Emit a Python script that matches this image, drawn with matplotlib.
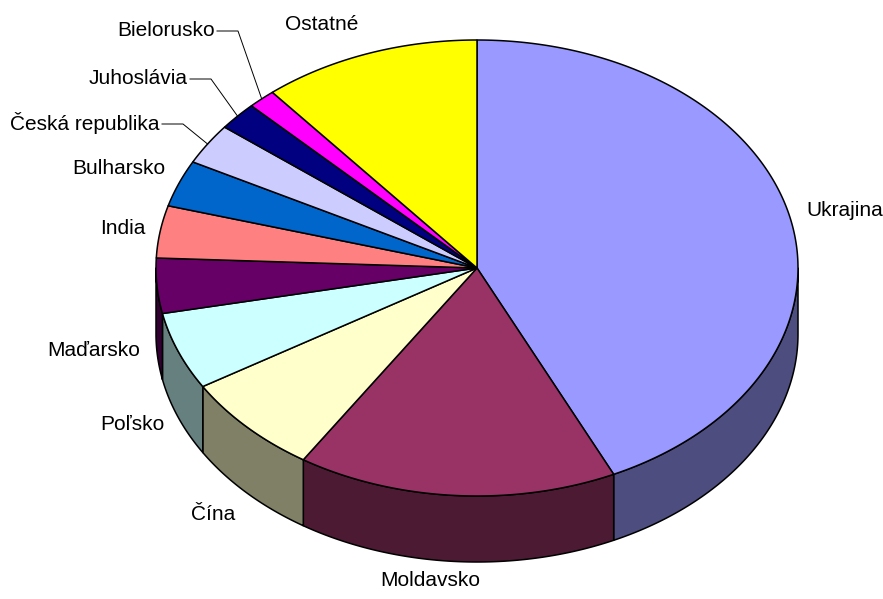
import numpy as np
import matplotlib
matplotlib.use("Agg")
import matplotlib.pyplot as plt
from matplotlib.colors import to_rgb

# ---- data ----
categories = ["Ukrajina", "Moldavsko", "Čína", "Poľsko", "Maďarsko", "India",
              "Bulharsko", "Česká republika", "Juhoslávia", "Bielorusko", "Ostatné"]
values = [43.0, 16.1, 7.2, 5.5, 3.9, 3.7, 3.3, 2.9, 2.0, 1.4, 11.0]
colors = ["#9999FF", "#993366", "#FFFFCC", "#CCFFFF", "#660066", "#FF8080",
          "#0066CC", "#CCCCFF", "#000080", "#FF00FF", "#FFFF00"]

# ---- layout (pixel space) ----
W, H = 883, 599
cx, cy, rx, ry, depth = 477.0, 268.0, 321.0, 228.0, 66.0

# label anchor positions (x, y, ha) and which have leader lines
label_pos = {
    "Ukrajina": (806, 210, "left"),
    "Moldavsko": (430, 581, "center"),
    "Čína": (213, 515, "center"),
    "Poľsko": (164, 425, "right"),
    "Maďarsko": (140, 351, "right"),
    "India": (146, 228, "right"),
    "Bulharsko": (165, 169, "right"),
    "Česká republika": (160, 123, "right"),
    "Juhoslávia": (188, 78, "right"),
    "Bielorusko": (215, 30, "right"),
    "Ostatné": (322, 24, "center"),
}
leaders = {"Česká republika", "Juhoslávia", "Bielorusko"}

fig = plt.figure(figsize=(W / 100, H / 100), dpi=100)
ax = fig.add_axes([0, 0, 1, 1])
ax.set_xlim(0, W)
ax.set_ylim(H, 0)
ax.axis("off")


def top_pt(t, dz=0.0):
    r = np.radians(t)
    return cx + rx * np.sin(r), cy - ry * np.cos(r) + dz


vals = np.array(values, dtype=float)
ends = np.cumsum(vals) / vals.sum() * 360.0
starts = np.concatenate([[0.0], ends[:-1]])

lw = 1.1
# side walls (front half, 90..270 deg)
for s, e, c in zip(starts, ends, colors):
    a, b = max(s, 90.0), min(e, 270.0)
    if a < b:
        ts = np.linspace(a, b, 200)
        xt, yt = top_pt(ts)
        xb, yb = top_pt(ts[::-1], depth)
        side = tuple(0.5 * v for v in to_rgb(c))
        ax.fill(np.concatenate([xt, xb]), np.concatenate([yt, yb]),
                facecolor=side, edgecolor="black", linewidth=lw, joinstyle="round")

# top faces
for s, e, c in zip(starts, ends, colors):
    ts = np.linspace(s, e, max(int((e - s) * 3), 10))
    xt, yt = top_pt(ts)
    ax.fill(np.concatenate([[cx], xt]), np.concatenate([[cy], yt]),
            facecolor=c, edgecolor="black", linewidth=lw, joinstyle="round")

# labels
font = dict(family=["Liberation Sans", "DejaVu Sans"], fontsize=15, color="black")
for cat, s, e in zip(categories, starts, ends):
    x, y, ha = label_pos[cat]
    ax.text(x, y, cat, ha=ha, va="center", **font)
    if cat in leaders:
        mx, my = top_pt((s + e) / 2.0)
        ax.plot([x + 2, x + 23, mx], [y + 1, y + 1, my], color="black", linewidth=0.7)

fig.savefig("out.png", dpi=100, facecolor="white")
